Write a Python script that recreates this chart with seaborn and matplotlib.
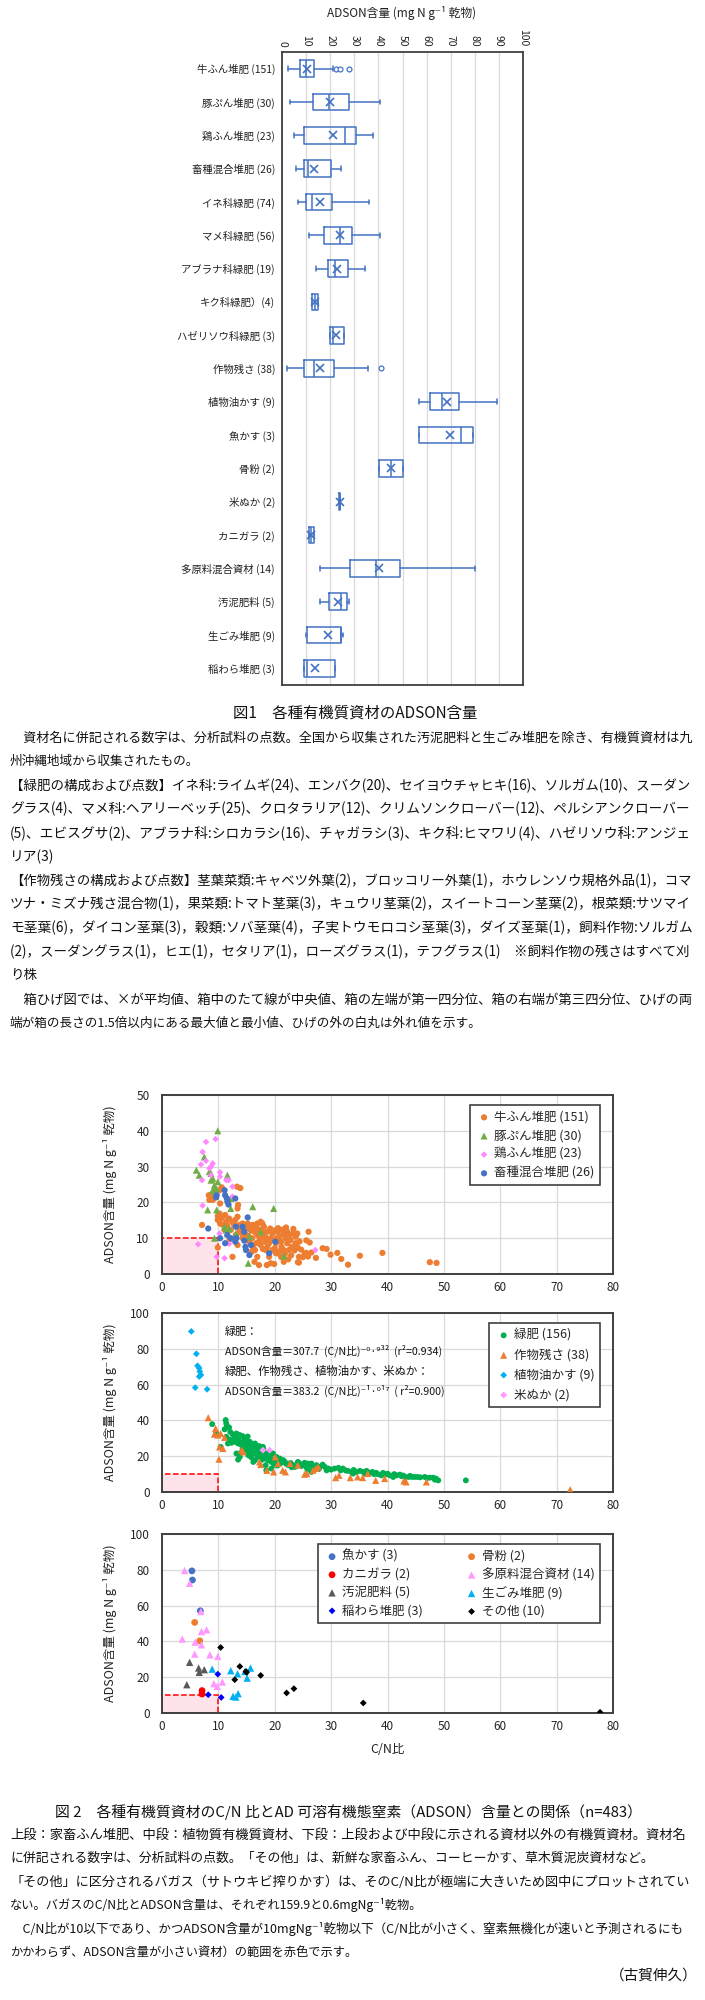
import matplotlib
matplotlib.use('Agg')
import matplotlib.pyplot as plt
from matplotlib.patches import Rectangle
import seaborn as sns

sns.set_style('white')
CJK = ['Noto Sans CJK JP', 'DejaVu Sans']
plt.rcParams['font.family'] = CJK
plt.rcParams['axes.unicode_minus'] = False

# ---------------- data: Fig.1 box plot ----------------
box_labels = ["牛ふん堆肥 (151)", "豚ぷん堆肥 (30)", "鶏ふん堆肥 (23)", "畜種混合堆肥 (26)",
              "イネ科緑肥 (74)", "マメ科緑肥 (56)", "アブラナ科緑肥 (19)", "キク科緑肥）(4)",
              "ハゼリソウ科緑肥 (3)", "作物残さ (38)", "植物油かす (9)", "魚かす (3)", "骨粉 (2)",
              "米ぬか (2)", "カニガラ (2)", "多原料混合資材 (14)", "汚泥肥料 (5)", "生ごみ堆肥 (9)",
              "稲わら堆肥 (3)"]
box_whislo = [2.5, 3.2, 4.8, 5.9, 6.8, 11.4, 14.1, 12.6, 19.9, 2.2, 57.0, 57.0, 40.4, 23.7, 11.0, 15.6, 15.6, 9.9, 9.0]
box_q1 = [7.6, 12.8, 9.0, 9.0, 9.9, 17.5, 18.9, 12.6, 19.9, 9.0, 61.5, 57.0, 40.4, 23.7, 11.0, 28.3, 19.4, 10.5, 9.0]
box_med = [10.0, 19.6, 26.3, 10.8, 12.3, 24.1, 21.8, 13.7, 21.1, 13.4, 66.5, 74.1, 45.4, 23.9, 12.1, 38.9, 24.4, 24.4, 10.3]
box_mean = [10.3, 20.1, 21.1, 13.4, 15.6, 24.1, 22.9, 13.8, 22.5, 15.9, 68.3, 69.8, 45.4, 23.9, 12.1, 40.4, 23.2, 19.0, 13.8]
box_q3 = [13.1, 28.0, 30.6, 20.3, 20.7, 29.1, 27.2, 14.9, 25.9, 21.4, 73.4, 79.2, 50.3, 24.0, 13.2, 49.0, 26.9, 24.6, 21.8]
box_whishi = [21.1, 40.7, 37.9, 24.3, 36.0, 40.7, 34.5, 14.9, 25.9, 35.6, 89.2, 79.2, 50.3, 24.0, 13.2, 80.0, 27.9, 25.4, 21.8]
box_fliers = [[22.3, 23.9, 27.6], [], [], [], [], [], [], [], [], [41.1], [], [], [], [], [], [], [], [], []]
box_ticks = list(range(0, 101, 10))

# ---------------- data: Fig.2 top (livestock manure) ----------------
cattle_cn = [48.7, 47.5, 39.1, 35.1, 33.0, 31.8, 31.1, 29.9, 29.2, 28.5, 27.3, 26.5, 26.0, 26.2, 25.6, 25.3, 25.0, 24.1, 24.7, 23.8, 23.9, 23.5,
             20.6, 21.5, 22.5, 25.6, 25.9, 24.4,
             7.1, 8.3, 8.4, 9.0, 9.3, 10.2, 10.6, 13.3, 10.3, 13.5, 13.4, 9.9, 12.5,
             9.9, 10.2, 9.9, 10.3, 10.5, 10.9, 11.2, 10.8, 11.4, 11.9,
             12.5, 13.0, 13.4, 12.8, 13.7, 12.2, 13.1, 13.7, 13.4,
             14.3, 15.0, 15.2, 15.6, 16.1, 15.8, 16.4, 16.6, 16.9, 17.5, 17.8, 18.1,
             16.9, 17.3, 17.8, 18.3, 17.5, 16.5, 16.9, 16.4, 17.2,
             18.4, 18.7, 19.0, 18.6, 19.3, 19.9, 19.3, 19.6, 20.2, 20.5, 20.2,
             20.8, 21.1, 21.4, 21.5, 21.2, 21.6, 21.9, 22.2, 22.2, 21.9,
             21.6, 22.4, 22.5, 22.8, 23.0, 22.5, 23.2, 23.7, 24.0, 23.7, 24.0, 24.3, 24.3,
             18.7, 17.5, 15.5, 16.1, 14.9, 11.1, 14.3, 20.6, 21.1, 19.6, 20.2, 19.0, 18.4,
             14.0, 14.8, 15.3, 16.0, 17.0, 18.0, 18.8, 19.8, 20.0, 20.9, 21.8, 22.9, 23.3, 22.0, 20.4, 19.2, 17.9, 16.7, 15.9, 12.0, 11.6, 13.9, 8.6]
cattle_adson = [3.1, 3.3, 5.9, 5.1, 2.6, 4.2, 5.9, 5.4, 7.0, 7.2, 4.5, 6.0, 11.8, 8.8, 9.4, 5.7, 4.7, 3.3, 6.8, 11.0, 7.2, 6.6,
                12.8, 12.4, 10.7, 5.9, 4.9, 9.1,
                13.7, 22.0, 20.7, 20.7, 21.4, 23.4, 24.2, 24.4, 19.7, 19.3, 18.3, 7.4, 4.8,
                16.2, 16.9, 15.1, 14.1, 15.5, 16.2, 16.5, 13.7, 14.6, 15.5,
                14.6, 15.1, 16.0, 13.7, 13.7, 12.3, 10.9, 12.1, 8.1,
                14.1, 13.7, 14.1, 13.2, 13.7, 12.1, 11.8, 13.2, 14.1, 14.6, 14.1, 13.2,
                10.9, 9.5, 10.4, 9.0, 8.1, 6.7, 4.8, 3.4, 2.5,
                6.7, 7.6, 4.8, 2.5, 3.0, 2.8, 10.0, 11.3, 8.6, 11.8, 12.3,
                10.4, 9.0, 12.3, 11.2, 7.6, 6.7, 10.0, 8.6, 11.8, 12.7,
                3.4, 4.1, 10.9, 9.5, 7.6, 6.7, 11.3, 10.4, 7.6, 8.6, 11.3, 4.8, 3.2,
                11.8, 12.3, 9.0, 7.6, 12.7, 12.3, 10.0, 5.8, 4.8, 6.7, 5.8, 8.6, 10.2,
                11.5, 11.0, 10.6, 10.0, 12.6, 11.6, 9.4, 9.6, 7.2, 6.4, 5.6, 5.2, 12.6, 13.0, 10.0, 12.7, 7.0, 8.6, 6.2, 9.6, 13.6, 24.0, 22.1]
pig_cn = [9.9, 7.5, 6.1, 6.6, 8.4, 8.7, 9.0, 11.6, 9.3, 9.6, 9.3, 9.9, 8.1, 9.7, 12.2, 12.2, 16.1, 19.8, 9.3, 11.1,
          11.4, 11.6, 11.9, 15.5, 17.5, 15.3, 21.6, 13.1, 9.0, 8.7]
pig_adson = [40.0, 32.7, 29.0, 27.6, 28.6, 28.1, 26.7, 27.6, 24.8, 23.9, 23.0, 25.8, 17.9, 17.9, 21.1, 18.3, 18.8, 18.3, 10.0, 13.2,
             12.3, 11.3, 12.7, 10.4, 11.8, 3.0, 5.0, 11.3, 23.4, 26.2]
chicken_cn = [9.5, 7.8, 7.2, 7.8, 6.9, 9.0, 8.7, 7.1, 8.4, 10.3, 10.3, 11.4, 11.8, 12.5, 7.2, 6.4, 10.2, 9.7, 11.1, 11.9, 27.2, 12.5, 8.7]
chicken_adson = [37.7, 36.9, 34.1, 31.6, 30.6, 30.9, 30.0, 26.2, 29.5, 28.4, 27.2, 26.2, 26.2, 24.4, 19.1, 8.3, 11.3, 4.8, 4.4, 8.4, 6.7, 21.6, 27.6]
mixed_cn = [9.7, 9.6, 11.1, 11.2, 11.5, 11.6, 11.8, 13.0, 8.2, 10.3, 11.6, 11.2, 12.2, 13.1, 13.2, 13.0, 14.3, 14.6, 15.2,
            14.6, 14.8, 14.9, 15.5, 15.8, 20.1, 19.0]
mixed_adson = [22.0, 21.4, 23.4, 22.0, 21.1, 20.2, 19.4, 21.1, 12.7, 10.0, 10.9, 8.6, 10.0, 13.2, 10.0, 9.0, 13.2, 11.8, 15.8,
               9.3, 7.6, 6.7, 5.3, 8.1, 9.0, 5.8]

# ---------------- data: Fig.2 middle (plant materials) ----------------
green_cn = [8.9, 9.6, 10.4, 11.3, 11.4, 11.5, 11.1, 11.9, 12.1, 12.5, 13.1, 13.2, 13.8, 14.3,
            11.4, 12.0, 11.7, 12.3, 12.9, 13.5, 13.2, 13.8,
            14.4, 14.7, 15.0, 15.3, 15.6, 15.1, 14.4, 14.7,
            15.6, 15.9, 16.2, 16.5, 16.6, 16.3, 15.9, 15.3,
            16.7, 17.0, 17.2, 16.5, 16.2,
            17.6, 17.9, 18.2, 18.5, 18.8, 18.4, 19.1, 19.4, 18.5,
            19.7, 20.3, 20.6, 20.9, 21.2, 21.5, 21.8, 20.0, 19.4,
            22.4, 23.3, 23.6, 24.1, 24.4, 25.0, 25.3, 25.9, 26.2,
            26.5, 25.6, 26.8, 26.5, 27.1, 27.4, 28.0, 28.5, 28.9, 29.5, 29.2,
            30.6, 31.3, 31.7, 32.1, 33.0, 33.6, 33.9, 34.5, 35.1, 35.7, 36.3, 36.9, 37.3, 38.0, 38.3, 38.9, 39.2, 39.8,
            40.4, 41.0, 41.6, 42.2, 42.5, 43.1, 43.7, 44.3, 44.8, 45.3, 46.6, 47.5, 48.1, 48.6, 49.0, 48.4, 53.9,
            13.5, 17.9, 16.7, 14.3,
            12.8, 13.6, 14.0, 14.9, 15.4, 15.8, 16.9, 17.4, 17.7, 18.0, 18.9, 19.3, 19.9, 20.5, 21.0, 22.0, 22.8, 23.0,
            24.7, 25.8, 27.8, 30.0, 32.6, 34.0, 36.0, 37.6, 40.0, 41.2, 42.8, 44.0, 45.8, 47.0, 16.0, 17.3, 15.2, 14.0]
green_adson = [37.9, 33.1, 25.2, 40.2, 38.3, 36.8, 35.0, 36.1, 33.6, 32.3, 30.8, 32.7, 31.8, 31.2,
               30.8, 29.3, 27.1, 27.5, 28.0, 27.1, 21.5, 19.6,
               28.0, 29.3, 28.6, 27.1, 28.0, 25.2, 25.2, 23.4,
               24.3, 26.2, 25.2, 27.1, 24.3, 22.4, 21.5, 20.6,
               21.5, 23.4, 19.6, 17.8, 16.8,
               21.5, 20.6, 18.7, 21.5, 17.8, 15.0, 19.6, 16.8, 12.1,
               21.5, 19.6, 17.8, 18.7, 17.4, 17.8, 16.8, 16.3, 13.1,
               15.0, 15.0, 14.0, 16.8, 15.9, 15.0, 16.3, 15.9, 15.0,
               15.9, 14.0, 13.1, 11.2, 14.0, 15.0, 14.0, 15.3, 14.0, 13.1, 12.1,
               13.1, 13.5, 12.1, 13.1, 11.8, 11.2, 10.3, 11.2, 11.8, 11.2, 11.8, 10.7, 11.2, 10.7, 9.9, 9.3, 10.7, 9.9,
               9.3, 8.4, 9.3, 9.7, 8.8, 8.4, 8.4, 8.4, 8.4, 8.4, 8.4, 8.0, 8.0, 7.5, 6.5, 6.9, 6.5,
               18.1, 25.2, 26.2, 24.3,
               29.6, 29.0, 26.5, 26.6, 23.0, 19.5, 20.2, 22.6, 18.0, 23.8, 20.4, 18.4, 15.2, 14.8, 16.0, 15.8, 16.2, 13.8,
               14.5, 12.6, 12.8, 12.5, 12.0, 12.3, 10.2, 10.0, 10.2, 10.0, 9.2, 9.0, 8.2, 7.8, 23.6, 25.6, 31.0, 22.0]
residue_cn = [8.2, 9.5, 9.3, 10.4, 11.1, 10.2, 10.8, 10.1, 14.1, 14.4, 17.5, 18.6, 19.8, 20.1, 20.6, 21.4, 21.9, 22.7, 24.1,
              25.3, 25.7, 26.8, 27.3, 27.7, 30.8, 31.4, 33.4, 34.7, 35.6, 36.5, 37.9, 39.5, 42.9, 43.3, 46.9, 72.4, 9.9, 17.3]
residue_adson = [41.5, 35.5, 32.3, 32.7, 30.5, 25.2, 24.3, 18.3, 23.4, 22.4, 15.3, 12.1, 11.2, 19.6, 15.9, 12.1, 11.2, 15.9, 15.0,
                 9.9, 10.3, 12.1, 13.1, 14.0, 8.0, 9.3, 8.0, 8.4, 8.0, 10.3, 6.5, 7.5, 6.2, 5.6, 5.6, 1.3, 31.8, 16.8]
oilcake_cn = [5.2, 6.1, 6.3, 6.6, 6.7, 6.9, 6.6, 5.9, 8.0]
oilcake_adson = [89.7, 77.2, 70.5, 69.2, 67.3, 65.4, 64.5, 58.3, 57.4]
ricebran_cn = [17.9, 19.1]
ricebran_adson = [23.4, 23.4]

# ---------------- data: Fig.2 bottom (other materials) ----------------
fish_cn = [5.3, 5.4, 6.8]
fish_adson = [79.4, 74.3, 57.1]
bone_cn = [5.8, 6.7]
bone_adson = [50.6, 40.3]
crab_cn = [7.1, 7.1]
crab_adson = [12.5, 10.6]
multi_cn = [4.0, 4.9, 6.9, 3.6, 5.9, 7.0, 7.0, 7.9, 5.8, 8.5, 9.9, 9.2, 9.8, 10.7]
multi_adson = [79.6, 72.5, 56.7, 41.3, 39.6, 38.1, 45.5, 46.5, 32.9, 32.5, 31.6, 16.4, 14.9, 17.3]
sludge_cn = [4.9, 4.4, 6.5, 6.6, 7.5]
sludge_adson = [28.3, 15.8, 25.1, 22.7, 24.2]
food_cn = [8.9, 12.2, 13.4, 14.7, 15.1, 15.7, 12.6, 13.1, 13.5]
food_adson = [24.5, 23.6, 21.9, 23.2, 19.5, 25.1, 9.3, 8.9, 10.8]
straw_cn = [8.2, 9.9, 10.5]
straw_adson = [10.2, 21.7, 8.7]
other_cn = [10.4, 13.8, 15.0, 17.5, 12.9, 22.1, 23.4, 35.7, 77.7, 14.9]
other_adson = [36.6, 26.0, 22.7, 21.0, 18.6, 11.2, 13.6, 5.6, 0.4, 23.2]

CN_LIMIT = 10
ADSON_LIMIT = 10

# ---------------- text ----------------
fig1_caption = "図1　各種有機質資材のADSON含量"
fig1_lines = [
    "　資材名に併記される数字は、分析試料の点数。全国から収集された汚泥肥料と生ごみ堆肥を除き、有機質資材は九",
    "州沖縄地域から収集されたもの。",
    "【緑肥の構成および点数】イネ科:ライムギ(24)、エンバク(20)、セイヨウチャヒキ(16)、ソルガム(10)、スーダン",
    "グラス(4)、マメ科:ヘアリーベッチ(25)、クロタラリア(12)、クリムソンクローバー(12)、ペルシアンクローバー",
    "(5)、エビスグサ(2)、アブラナ科:シロカラシ(16)、チャガラシ(3)、キク科:ヒマワリ(4)、ハゼリソウ科:アンジェ",
    "リア(3)",
    "【作物残さの構成および点数】茎葉菜類:キャベツ外葉(2)，ブロッコリー外葉(1)，ホウレンソウ規格外品(1)，コマ",
    "ツナ・ミズナ残さ混合物(1)，果菜類:トマト茎葉(3)，キュウリ茎葉(2)，スイートコーン茎葉(2)，根菜類:サツマイ",
    "モ茎葉(6)，ダイコン茎葉(3)，穀類:ソバ茎葉(4)，子実トウモロコシ茎葉(3)，ダイズ茎葉(1)，飼料作物:ソルガム",
    "(2)，スーダングラス(1)，ヒエ(1)，セタリア(1)，ローズグラス(1)，テフグラス(1)　※飼料作物の残さはすべて刈",
    "り株",
    "　箱ひげ図では、×が平均値、箱中のたて線が中央値、箱の左端が第一四分位、箱の右端が第三四分位、ひげの両",
    "端が箱の長さの1.5倍以内にある最大値と最小値、ひげの外の白丸は外れ値を示す。",
]
fig1_ends = [695, 200, 695, 695, 695, None, 695, 695, 695, 695, None, 695, 482]

fig2_caption = "図 2　各種有機質資材のC/N 比とAD 可溶有機態窒素（ADSON）含量との関係（n=483）"
fig2_lines = [
    "上段：家畜ふん堆肥、中段：植物質有機質資材、下段：上段および中段に示される資材以外の有機質資材。資材名",
    "に併記される数字は、分析試料の点数。「その他」は、新鮮な家畜ふん、コーヒーかす、草木質泥炭資材など。",
    "「その他」に区分されるバガス（サトウキビ搾りかす）は、そのC/N比が極端に大きいため図中にプロットされてい",
    "ない。バガスのC/N比とADSON含量は、それぞれ159.9と0.6mgNg⁻¹乾物。",
    "　C/N比が10以下であり、かつADSON含量が10mgNg⁻¹乾物以下（C/N比が小さく、窒素無機化が速いと予測されるにも",
    "かかわらず、ADSON含量が小さい資材）の範囲を赤色で示す。",
]
fig2_ends = [690, 657, 692, 422, 686, 357]
author = "（古賀伸久）"

# ---------------- figure ----------------
W, H = 705, 2000
fig = plt.figure(figsize=(W / 100, H / 100), dpi=100)
renderer = fig.canvas.get_renderer()


def rect(l, t, r, b):
    return [l / W, 1 - b / H, (r - l) / W, (b - t) / H]


def text_line(y, s, x0, x1=None, fs=9.5, ha='left'):
    t = fig.text(x0 / W, 1 - y / H, s, fontsize=fs, va='center', ha=ha, family=CJK, color='#111111')
    if x1 is not None:
        w = t.get_window_extent(renderer).width
        new = fs * (x1 - x0) / w
        new = min(max(new, fs * 0.85), fs * 1.15)
        t.set_fontsize(new)
    return t


BLUE = '#4472C4'
SPINE = '#404040'
GRID = '#D9D9D9'

# ---- Fig.1 box plot ----
axb = fig.add_axes(rect(282, 52, 523, 685))
stats = []
for i in range(len(box_labels)):
    stats.append(dict(label=box_labels[i], whislo=box_whislo[i], q1=box_q1[i], med=box_med[i],
                      mean=box_mean[i], q3=box_q3[i], whishi=box_whishi[i], fliers=box_fliers[i]))
lp = dict(color=BLUE, linewidth=1.1)
axb.bxp(stats, positions=list(range(len(stats))), widths=0.5, orientation='horizontal',
        showmeans=True, capwidths=0.14,
        boxprops=lp, whiskerprops=lp, capprops=lp, medianprops=lp,
        meanprops=dict(marker='x', markeredgecolor=BLUE, markersize=6, markeredgewidth=1.2),
        flierprops=dict(marker='o', markerfacecolor='white', markeredgecolor=BLUE, markersize=3.5,
                        markeredgewidth=0.9))
axb.set_ylim(len(stats) - 0.5, -0.5)
axb.set_xlim(0, 100)
axb.xaxis.tick_top()
axb.set_xticks(box_ticks)
axb.set_xticklabels([str(t) for t in box_ticks], rotation=270, fontsize=7.5, family=CJK)
axb.tick_params(axis='x', length=0, pad=4, labelcolor='#222222')
axb.tick_params(axis='y', length=0, pad=5, labelsize=7.5, labelcolor='#222222')
axb.grid(axis='x', color=GRID, lw=0.9)
axb.grid(axis='y', visible=False)
axb.set_axisbelow(True)
for s in axb.spines.values():
    s.set_color(SPINE)
    s.set_linewidth(1.3)
fig.text(402 / W, 1 - 13 / H, "ADSON含量 (mg N g⁻¹ 乾物)", fontsize=8.5, ha='center', va='center',
         family=CJK, color='#222222')

# ---- Fig.1 caption and notes ----
text_line(713, fig1_caption, 233, 477, fs=11)
fs_prev = 9.5
for i, (ln, end) in enumerate(zip(fig1_lines, fig1_ends)):
    y = 738 + 23.75 * i
    t = text_line(y, ln, 10, end, fs=9.5 if end is not None else fs_prev)
    fs_prev = t.get_fontsize()


# ---- Fig.2 scatter helpers ----
def style_scatter(ax, ymax, ystep):
    ax.set_xlim(0, 80)
    ax.set_ylim(0, ymax)
    ax.set_xticks(range(0, 81, 10))
    ax.set_yticks(range(0, ymax + 1, ystep))
    ax.grid(True, color=GRID, lw=0.9)
    ax.set_axisbelow(True)
    ax.tick_params(axis='x', length=0, labelsize=8.5, labelcolor='#262626', pad=5)
    ax.tick_params(axis='y', length=0, labelsize=8.5, labelcolor='#262626', pad=9)
    for s in ax.spines.values():
        s.set_color(SPINE)
        s.set_linewidth(1.4)
    ax.add_patch(Rectangle((0, 0), CN_LIMIT, ADSON_LIMIT, facecolor='#FFE3EA', edgecolor='#FF0000',
                           linestyle='--', linewidth=1.1, zorder=1.5))
    ax.set_ylabel("ADSON含量 (mg N g⁻¹ 乾物)", fontsize=9, family=CJK, color='#222222')
    ax.yaxis.set_label_coords((117 - 162) / 451, 0.5)
    ax.set_xlabel("")


def pts(ax, x, y, color, marker, s, label):
    sns.scatterplot(x=x, y=y, ax=ax, color=color, marker=marker, s=s, linewidth=0,
                    edgecolor='none', label=label, zorder=3, legend=True)


def legend(ax, size, ncol=1, colsp=2.0, lsp=0.45):
    leg = ax.legend(loc='upper right', bbox_to_anchor=(0.971, 0.944), prop={'family': CJK, 'size': size},
                    frameon=True, fancybox=False, edgecolor=SPINE, framealpha=1, borderpad=0.45,
                    handletextpad=0.1, handlelength=1.4, labelspacing=lsp, ncol=ncol,
                    columnspacing=colsp, borderaxespad=0)
    leg.get_frame().set_linewidth(1.2)
    return leg


# ---- top panel ----
ax1 = fig.add_axes(rect(162, 1095, 613, 1274))
pts(ax1, cattle_cn, cattle_adson, '#ED7D31', 'o', 20, "牛ふん堆肥 (151)")
pts(ax1, pig_cn, pig_adson, '#70AD47', '^', 26, "豚ぷん堆肥 (30)")
pts(ax1, chicken_cn, chicken_adson, '#FF88FF', 'D', 11, "鶏ふん堆肥 (23)")
pts(ax1, mixed_cn, mixed_adson, '#4472C4', 'o', 20, "畜種混合堆肥 (26)")
style_scatter(ax1, 50, 10)
legend(ax1, 9)

# ---- middle panel ----
ax2 = fig.add_axes(rect(162, 1313, 613, 1492))
pts(ax2, green_cn, green_adson, '#00B050', 'o', 18, "緑肥 (156)")
pts(ax2, residue_cn, residue_adson, '#ED7D31', '^', 26, "作物残さ (38)")
pts(ax2, oilcake_cn, oilcake_adson, '#00B0F0', 'D', 12, "植物油かす (9)")
pts(ax2, ricebran_cn, ricebran_adson, '#FF99FF', 'D', 12, "米ぬか (2)")
style_scatter(ax2, 100, 20)
legend(ax2, 9, lsp=0.55)
eq_lines = ["緑肥：",
            "ADSON含量＝307.7  (C/N比)⁻⁰·⁹³²  (r²=0.934)",
            "緑肥、作物残さ、植物油かす、米ぬか：",
            "ADSON含量＝383.2  (C/N比)⁻¹·⁰¹⁷  ( r²=0.900)"]
eq_ends = [None, 443, 430, 445]
for ln, yy, end in zip(eq_lines, [1332, 1351, 1371, 1391], eq_ends):
    text_line(yy, ln, 225, end, fs=8)

# ---- bottom panel ----
ax3 = fig.add_axes(rect(162, 1534, 613, 1713))
pts(ax3, fish_cn, fish_adson, '#4472C4', 'o', 24, "魚かす (3)")
pts(ax3, crab_cn, crab_adson, '#FF0000', 'o', 24, "カニガラ (2)")
pts(ax3, sludge_cn, sludge_adson, '#595959', '^', 28, "汚泥肥料 (5)")
pts(ax3, straw_cn, straw_adson, '#0000FF', 'D', 12, "稲わら堆肥 (3)")
pts(ax3, bone_cn, bone_adson, '#ED7D31', 'o', 24, "骨粉 (2)")
pts(ax3, multi_cn, multi_adson, '#FF99FF', '^', 28, "多原料混合資材 (14)")
pts(ax3, food_cn, food_adson, '#00B0F0', '^', 28, "生ごみ堆肥 (9)")
pts(ax3, other_cn, other_adson, '#000000', 'D', 12, "その他 (10)")
style_scatter(ax3, 100, 20)
legend(ax3, 9, ncol=2, colsp=3.2, lsp=0.4)
ax3.set_xlabel("C/N比", fontsize=9, family=CJK, color='#222222', labelpad=7)

# ---- Fig.2 caption and notes ----
text_line(1812, fig2_caption, 55, 641, fs=11)
for i, (ln, end) in enumerate(zip(fig2_lines, fig2_ends)):
    text_line(1835 + 23.4 * i, ln, 10, end, fs=9.8)
text_line(1976, author, 698, None, fs=10.5, ha='right')

fig.savefig('out.png', dpi=100, facecolor='white')
